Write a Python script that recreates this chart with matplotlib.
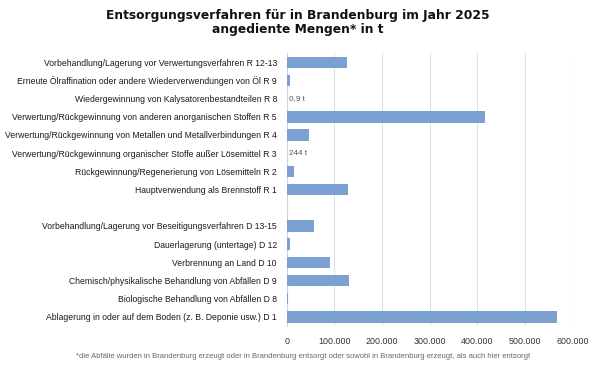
import matplotlib
matplotlib.use('Agg')
import matplotlib.pyplot as plt
from matplotlib.ticker import FuncFormatter

labels = [
    'Vorbehandlung/Lagerung vor Verwertungsverfahren R 12-13',
    'Erneute Ölraffination oder andere Wiederverwendungen von Öl R 9',
    'Wiedergewinnung von Kalysatorenbestandteilen R 8',
    'Verwertung/Rückgewinnung von anderen anorganischen Stoffen R 5',
    'Verwertung/Rückgewinnung von Metallen und Metallverbindungen R 4',
    'Verwertung/Rückgewinnung organischer Stoffe außer Lösemittel R 3',
    'Rückgewinnung/Regenerierung von Lösemitteln R 2',
    'Hauptverwendung als Brennstoff R 1',
    '',
    'Vorbehandlung/Lagerung vor Beseitigungsverfahren D 13-15',
    'Dauerlagerung (untertage) D 12',
    'Verbrennung an Land D 10',
    'Chemisch/physikalische Behandlung von Abfällen D 9',
    'Biologische Behandlung von Abfällen D 8',
    'Ablagerung in oder auf dem Boden (z. B. Deponie usw.) D 1',
]
values = [127000, 6300, 0.9, 415000, 47000, 244, 15000, 129000,
          0, 58000, 6000, 90000, 131000, 3500, 568000]
# small values that get a text label instead of a visible bar
annotated = ['Wiedergewinnung von Kalysatorenbestandteilen R 8',
             'Verwertung/Rückgewinnung organischer Stoffe außer Lösemittel R 3']

sans = ['Liberation Sans', 'DejaVu Sans']

fig = plt.figure(figsize=(5.96, 3.72), dpi=100)
ax = fig.add_axes([0.481, 0.124, 0.48, 0.733])

pos = list(range(len(labels)))
ax.barh(pos, values, height=0.63, color='#7ba0d2', zorder=3)
ax.set_ylim(len(labels) - 0.5, -0.5)
ax.set_xlim(0, 600000)
ax.set_xticks(range(0, 600001, 100000))
ax.xaxis.set_major_formatter(FuncFormatter(lambda v, p: f'{int(v):,}'.replace(',', '.')))
ax.set_yticks(pos)
ax.set_yticklabels(labels, family=sans, fontsize=6.2, color='#1a1a1a')
for t in ax.get_xticklabels():
    t.set_family(sans)
    t.set_fontsize(6.4)
    t.set_color('#333333')
ax.tick_params(length=0, axis='y', pad=7)
ax.tick_params(length=0, axis='x', pad=8)
ax.grid(axis='x', color='#d9e0ea', linewidth=0.8, zorder=0)
for s in ['top', 'right', 'bottom']:
    ax.spines[s].set_visible(False)
ax.spines['left'].set_color('#ccd5e2')
ax.spines['left'].set_linewidth(0.8)

for lab, v in zip(labels, values):
    if lab in annotated:
        txt = (f'{v:g}'.replace('.', ',')) + ' t'
        ax.text(v + 5000, labels.index(lab), txt, va='center', ha='left',
                family=sans, fontsize=5.9, color='#555555')

fig.text(0.5, 0.94, 'Entsorgungsverfahren für in Brandenburg im Jahr 2025\nangediente Mengen* in t',
         ha='center', va='center', fontsize=8.8, fontweight='bold',
         linespacing=1.15, color='#111111')
fig.text(0.508, 0.043, '*die Abfälle wurden in Brandenburg erzeugt oder in Brandenburg entsorgt '
         'oder sowohl in Brandenburg erzeugt, als auch hier entsorgt',
         ha='center', va='center', family=sans, fontsize=5.5, color='#666666')

fig.savefig('out.png', dpi=100, facecolor='white')
